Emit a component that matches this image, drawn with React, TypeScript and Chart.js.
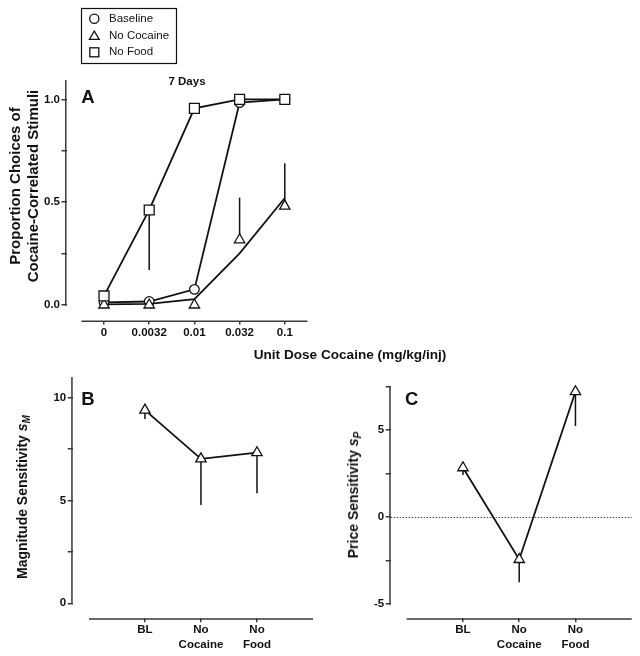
import React, { useEffect, useRef } from "react";
import { Chart, registerables } from "chart.js";

Chart.register(...registerables);

const FONT = '"Liberation Sans", Arial, Helvetica, sans-serif';
const INK = "#111111";
const AXIS = "#3a3a3a";

// ---------- Panel A data ----------
const doseLabels = ["0", "0.0032", "0.01", "0.032", "0.1"];
const baselineA = [0.013, 0.017, 0.076, 0.984, 1.0];
const noCocaineA = [0, 0, 0, 0.317, 0.481];
const noCocaineErrA = [null, null, null, 0.522, 0.689];
const noCocaineTrendA = [0.003, 0.005, 0.029, 0.251, 0.52];
const noFoodA = [0.044, 0.462, 0.956, 1.0, 1.0];
const noFoodErrA = [null, 0.17, null, null, null];
const xTicksA = [0, 1, 2, 3, 4];
const yTicksA = [0, 0.25, 0.5, 0.75, 1.0];
const yLabelsA = ["0.0", "", "0.5", "", "1.0"];

// ---------- Panels B & C data ----------
const conditionLabels = [["BL"], ["No", "Cocaine"], ["No", "Food"]];
const xTicksBC = [1, 2, 3];
const magnitudeB = [9.39, 7.02, 7.32];
const magnitudeErrB = [8.96, 4.78, 5.35];
const yTicksB = [0, 2.5, 5, 7.5, 10];
const yLabelsB = ["0", "", "5", "", "10"];
const priceC = [2.83, -2.44, 7.2];
const priceErrC = [2.41, -3.75, 5.23];
const yTicksC = [-5, -2.5, 0, 2.5, 5, 7.5];
const yLabelsC = ["-5", "", "0", "", "5", ""];

const W = 640;
const H = 656;
const YW = 30;
const XH = 40;

const prismPlugin = {
  id: "prism",
  beforeDatasetsDraw(chart: any, _args: any, opts: any) {
    const { ctx, chartArea } = chart;
    const x = chart.scales.x;
    const y = chart.scales.y;
    ctx.save();
    // axis lines (offset, Prism style)
    ctx.strokeStyle = AXIS;
    ctx.lineWidth = 1.5;
    ctx.lineCap = "butt";
    ctx.beginPath();
    ctx.moveTo(chartArea.left - 0.75, y.getPixelForValue(opts.yLine[0]) + 0.75);
    ctx.lineTo(chartArea.left - 0.75, y.getPixelForValue(opts.yLine[1]));
    ctx.moveTo(x.getPixelForValue(opts.xLine[0]), chartArea.bottom + 0.75);
    ctx.lineTo(x.getPixelForValue(opts.xLine[1]), chartArea.bottom + 0.75);
    ctx.stroke();
    // dotted zero line
    if (opts.zeroLine) {
      ctx.setLineDash([1.5, 1.5]);
      ctx.strokeStyle = "#444";
      ctx.lineWidth = 1;
      const py = Math.round(y.getPixelForValue(0)) + 0.5;
      ctx.beginPath();
      ctx.moveTo(chartArea.left, py);
      ctx.lineTo(x.getPixelForValue(opts.xLine[1]), py);
      ctx.stroke();
      ctx.setLineDash([]);
    }
    // one-sided error bars
    chart.data.datasets.forEach((ds: any, di: number) => {
      const err = ds.errorTo;
      if (!err) return;
      const meta = chart.getDatasetMeta(di);
      ctx.strokeStyle = INK;
      ctx.lineWidth = 1.5;
      err.forEach((e: number | null, i: number) => {
        if (e == null) return;
        const pt = meta.data[i];
        ctx.beginPath();
        ctx.moveTo(pt.x, pt.y);
        ctx.lineTo(pt.x, y.getPixelForValue(e));
        ctx.stroke();
      });
    });
    ctx.restore();
  },
};

type Area = { left: number; top: number; right: number; bottom: number };

interface PanelSpec {
  area: Area;
  xMin: number;
  xMax: number;
  xTicks: number[];
  xLabel: (v: number) => string | string[];
  yMin: number;
  yMax: number;
  yTicks: number[];
  yLabel: (v: number) => string;
  xLine: [number, number];
  yLine: [number, number];
  zeroLine?: boolean;
  datasets: any[];
}

function buildConfig(p: PanelSpec): any {
  const tickFont = { family: FONT, size: 11.5, weight: "bold" as const, lineHeight: 1.22 };
  return {
    type: "scatter",
    data: { datasets: p.datasets },
    options: {
      responsive: false,
      animation: false,
      events: [],
      layout: {
        padding: {
          left: p.area.left - YW,
          top: p.area.top,
          right: W - p.area.right,
          bottom: H - p.area.bottom - XH,
        },
      },
      plugins: {
        legend: { display: false },
        tooltip: { enabled: false },
        title: { display: false },
        prism: { xLine: p.xLine, yLine: p.yLine, zeroLine: !!p.zeroLine },
      },
      scales: {
        x: {
          type: "linear",
          position: "bottom",
          bounds: "data",
          min: p.xMin,
          max: p.xMax,
          afterBuildTicks: (s: any) => {
            s.ticks = p.xTicks.map((v) => ({ value: v }));
          },
          afterFit: (s: any) => {
            s.height = XH;
          },
          ticks: {
            autoSkip: false,
            maxRotation: 0,
            minRotation: 0,
            padding: 1,
            color: INK,
            font: tickFont,
            callback: (v: any) => p.xLabel(Number(v)),
          },
          grid: {
            display: true,
            drawOnChartArea: false,
            drawTicks: true,
            tickLength: 4,
            color: AXIS,
            lineWidth: 1.5,
          },
          border: { display: false },
        },
        y: {
          type: "linear",
          position: "left",
          bounds: "data",
          min: p.yMin,
          max: p.yMax,
          afterBuildTicks: (s: any) => {
            s.ticks = p.yTicks.map((v) => ({ value: v }));
          },
          afterFit: (s: any) => {
            s.width = YW;
          },
          ticks: {
            autoSkip: false,
            padding: 1.5,
            color: INK,
            font: tickFont,
            callback: (v: any) => p.yLabel(Number(v)),
          },
          grid: {
            display: true,
            drawOnChartArea: false,
            drawTicks: true,
            tickLength: 5,
            color: AXIS,
            lineWidth: 1.5,
          },
          border: { display: false },
        },
      },
    },
    plugins: [prismPlugin],
  };
}

const pts = (ys: number[], start = 0) => ys.map((y, i) => ({ x: i + start, y }));

const baseStyle = {
  borderColor: INK,
  pointBorderColor: INK,
  pointBackgroundColor: "#ffffff",
  pointBorderWidth: 1.3,
  borderWidth: 1.8,
  clip: false,
  pointHoverRadius: 0,
};

const panelA: PanelSpec = {
  area: { left: 66.5, top: 80, right: 307.4, bottom: 320.5 },
  xMin: -0.83,
  xMax: 4.5,
  xTicks: xTicksA,
  xLabel: (v) => doseLabels[v] ?? "",
  yMin: -0.0754,
  yMax: 1.094,
  yTicks: yTicksA,
  yLabel: (v) => yLabelsA[yTicksA.indexOf(v)] ?? "",
  xLine: [-0.5, 4.5],
  yLine: [0, 1.094],
  datasets: [
    { ...baseStyle, label: "No Food", data: pts(noFoodA), showLine: true, pointStyle: "rect", pointRadius: 7, order: 0, errorTo: noFoodErrA },
    { ...baseStyle, label: "No Cocaine", data: pts(noCocaineA), showLine: false, pointStyle: "triangle", pointRadius: 6, order: 1, errorTo: noCocaineErrA },
    { ...baseStyle, label: "No Cocaine (line)", data: pts(noCocaineTrendA), showLine: true, pointRadius: 0, order: 2 },
    { ...baseStyle, label: "Baseline", data: pts(baselineA), showLine: true, pointStyle: "circle", pointRadius: 4.8, order: 3 },
  ],
};

const panelB: PanelSpec = {
  area: { left: 72.7, top: 377, right: 313, bottom: 618.3 },
  xMin: -0.29,
  xMax: 4,
  xTicks: xTicksBC,
  xLabel: (v) => conditionLabels[v - 1] ?? "",
  yMin: -0.73,
  yMax: 11,
  yTicks: yTicksB,
  yLabel: (v) => yLabelsB[yTicksB.indexOf(v)] ?? "",
  xLine: [0, 4],
  yLine: [0, 11],
  datasets: [
    { ...baseStyle, label: "Magnitude", data: pts(magnitudeB, 1), showLine: true, pointStyle: "triangle", pointRadius: 6, errorTo: magnitudeErrB },
  ],
};

const panelC: PanelSpec = {
  area: { left: 390.7, top: 386.5, right: 631.7, bottom: 618.3 },
  xMin: -0.285,
  xMax: 4,
  xTicks: xTicksBC,
  xLabel: (v) => conditionLabels[v - 1] ?? "",
  yMin: -5.82,
  yMax: 7.5,
  yTicks: yTicksC,
  yLabel: (v) => yLabelsC[yTicksC.indexOf(v)] ?? "",
  xLine: [0, 4],
  yLine: [-5, 7.5],
  zeroLine: true,
  datasets: [
    { ...baseStyle, label: "Price", data: pts(priceC, 1), showLine: true, pointStyle: "triangle", pointRadius: 6, errorTo: priceErrC },
  ],
};

function Txt(props: {
  x: number;
  y: number;
  size: number;
  bold?: boolean;
  align?: "center" | "left";
  rotate?: number;
  lineHeight?: number;
  children: React.ReactNode;
}) {
  const { x, y, size, bold = true, align = "center", rotate = 0, lineHeight = 1, children } = props;
  const tx = align === "center" ? "-50%" : "0";
  return (
    <div
      style={{
        position: "absolute",
        left: x,
        top: y,
        transform: `translate(${tx}, -50%)${rotate ? ` rotate(${rotate}deg)` : ""}`,
        fontFamily: FONT,
        fontSize: size,
        fontWeight: bold ? 700 : 400,
        lineHeight: `${lineHeight * size}px`,
        whiteSpace: "nowrap",
        textAlign: "center",
        color: INK,
      }}
    >
      {children}
    </div>
  );
}

const subStyle: React.CSSProperties = { fontSize: "0.72em", verticalAlign: "-0.25em", lineHeight: 0 };

export default function App() {
  const refA = useRef<HTMLCanvasElement>(null);
  const refB = useRef<HTMLCanvasElement>(null);
  const refC = useRef<HTMLCanvasElement>(null);

  useEffect(() => {
    const charts = [
      new Chart(refA.current as HTMLCanvasElement, buildConfig(panelA)),
      new Chart(refB.current as HTMLCanvasElement, buildConfig(panelB)),
      new Chart(refC.current as HTMLCanvasElement, buildConfig(panelC)),
    ];
    return () => charts.forEach((c) => c.destroy());
  }, []);

  const canvasStyle: React.CSSProperties = { position: "absolute", left: 0, top: 0, width: W, height: H };

  return (
    <div style={{ position: "fixed", left: 0, top: 0, width: W, height: H, background: "#ffffff", overflow: "hidden" }}>
      <canvas ref={refA} width={W} height={H} style={canvasStyle} />
      <canvas ref={refB} width={W} height={H} style={canvasStyle} />
      <canvas ref={refC} width={W} height={H} style={canvasStyle} />

      {/* Legend */}
      <svg width={W} height={70} style={{ position: "absolute", left: 0, top: 0 }}>
        <rect x={81.5} y={8.5} width={95} height={55} fill="none" stroke={INK} strokeWidth={1.2} />
        <circle cx={94.3} cy={18.7} r={4.6} fill="#fff" stroke={INK} strokeWidth={1.3} />
        <polygon points="94.3,31 99.2,39.4 89.4,39.4" fill="#fff" stroke={INK} strokeWidth={1.3} />
        <rect x={89.8} y={47.8} width={9} height={9} fill="#fff" stroke={INK} strokeWidth={1.3} />
      </svg>
      <Txt x={109} y={18.7} size={11.5} bold={false} align="left">Baseline</Txt>
      <Txt x={109} y={35.5} size={11.5} bold={false} align="left">No Cocaine</Txt>
      <Txt x={109} y={52.3} size={11.5} bold={false} align="left">No Food</Txt>

      {/* Panel A annotations */}
      <Txt x={187} y={82} size={11.5}>7 Days</Txt>
      <Txt x={88} y={96.5} size={18.5}>A</Txt>
      <Txt x={24} y={186} size={15} rotate={-90} lineHeight={1.2}>
        Proportion Choices of
        <br />
        Cocaine-Correlated Stimuli
      </Txt>
      <Txt x={350} y={355} size={13.6}>Unit Dose Cocaine (mg/kg/inj)</Txt>

      {/* Panel B annotations */}
      <Txt x={88} y={399} size={18.5}>B</Txt>
      <Txt x={21.7} y={497} size={14} rotate={-90}>
        Magnitude Sensitivity <i>s<span style={subStyle}>M</span></i>
      </Txt>

      {/* Panel C annotations */}
      <Txt x={411.7} y={399.3} size={18.5}>C</Txt>
      <Txt x={353} y={495} size={14} rotate={-90}>
        Price Sensitivity <i>s<span style={subStyle}>P</span></i>
      </Txt>
    </div>
  );
}
